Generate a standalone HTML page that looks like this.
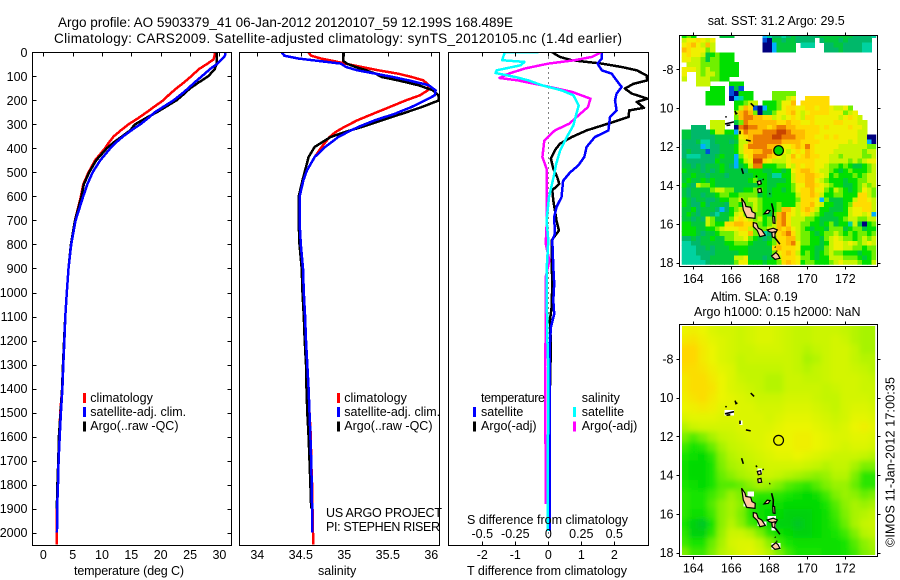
<!DOCTYPE html>
<html>
<head>
<meta charset="utf-8">
<title>Argo profile 5903379_41</title>
<style>
html,body{margin:0;padding:0;background:#fff;}
svg{display:block;}
text{font-family:"Liberation Sans",Arial,sans-serif;font-size:12.5px;fill:#000;}
.title{font-size:13.5px;}
.frame{fill:none;stroke:#000;stroke-width:1;shape-rendering:crispEdges;}
</style>
</head>
<body>
<svg id="chart" xmlns="http://www.w3.org/2000/svg" width="900" height="580" viewBox="0 0 900 580">
  <defs>
    <clipPath id="clip-temp"><rect x="33" y="53" width="198" height="492"/></clipPath>
    <clipPath id="clip-sal"><rect x="240" y="53" width="199" height="492"/></clipPath>
    <clipPath id="clip-diff"><rect x="449" y="53" width="199" height="492"/></clipPath>
    <clipPath id="clip-sst"><rect x="681.7" y="35" width="194.5" height="229.7"/></clipPath>
    <clipPath id="clip-sla"><rect x="682" y="326" width="193.2" height="229"/></clipPath>
    <filter id="sla-blur" filterUnits="userSpaceOnUse" x="650" y="300" width="250" height="280"><feGaussianBlur stdDeviation="2.6"/></filter>
  </defs>

  <text class="title" x="58" y="27" textLength="455" lengthAdjust="spacing">Argo profile: AO 5903379_41 06-Jan-2012 20120107_59 12.199S 168.489E</text>
  <text class="title" x="54" y="43" textLength="568" lengthAdjust="spacing">Climatology: CARS2009. Satellite-adjusted climatology: synTS_20120105.nc (1.4d earlier)</text>

  <g id="temp-panel"></g>
  <g id="sal-panel"></g>
  <g id="diff-panel"></g>
  <g id="sst-panel"></g>
  <g id="sla-panel"></g>

  <rect class="frame" x="32.5" y="52.5" width="199" height="493"/>
  <rect class="frame" x="239.5" y="52.5" width="200" height="493"/>
  <rect class="frame" x="448.5" y="52.5" width="200" height="493"/>
  <rect class="frame" x="679.5" y="35.5" width="198" height="231"/>
  <rect class="frame" x="679.5" y="324.5" width="198" height="232"/>

  <text x="74" y="575" textLength="110" lengthAdjust="spacing">temperature (deg C)</text>
  <text x="318" y="575">salinity</text>
  <text x="467" y="575" textLength="160" lengthAdjust="spacing">T difference from climatology</text>
  <text x="467" y="524" textLength="161" lengthAdjust="spacing">S difference from climatology</text>

  <g>
    <rect x="83" y="393" width="3" height="10" fill="#ff0000"/>
    <text x="90.3" y="402">climatology</text>
    <rect x="83" y="407" width="3" height="10" fill="#0000ff"/>
    <text x="90.3" y="416">satellite-adj. clim.</text>
    <rect x="83" y="421.5" width="3" height="10" fill="#000"/>
    <text x="90.3" y="430">Argo(..raw -QC)</text>
  </g>
  <g>
    <rect x="337" y="393" width="3" height="10" fill="#ff0000"/>
    <text x="344.3" y="402">climatology</text>
    <rect x="337" y="407" width="3" height="10" fill="#0000ff"/>
    <text x="344.3" y="416">satellite-adj. clim.</text>
    <rect x="337" y="421.5" width="3" height="10" fill="#000"/>
    <text x="344.3" y="430">Argo(..raw -QC)</text>
  </g>
  <text x="326" y="517" textLength="116" lengthAdjust="spacing">US ARGO PROJECT</text>
  <text x="326" y="531" textLength="114" lengthAdjust="spacing">PI: STEPHEN RISER</text>
  <g>
    <text x="481" y="402" textLength="64" lengthAdjust="spacing">temperature</text>
    <rect x="473" y="407" width="3" height="10" fill="#0000ff"/>
    <text x="481" y="416">satellite</text>
    <rect x="473" y="421.5" width="3" height="10" fill="#000"/>
    <text x="481" y="430">Argo(-adj)</text>
    <text x="581.7" y="402">salinity</text>
    <rect x="573" y="407" width="3" height="10" fill="#00ffff"/>
    <text x="581.7" y="416">satellite</text>
    <rect x="573" y="421.5" width="3" height="10" fill="#ff00ff"/>
    <text x="581.7" y="430">Argo(-adj)</text>
  </g>

  <text x="707.7" y="25" textLength="137" lengthAdjust="spacing">sat. SST: 31.2 Argo: 29.5</text>
  <text x="710.7" y="301" textLength="87" lengthAdjust="spacing">Altim. SLA: 0.19</text>
  <text x="694" y="316" textLength="166.5" lengthAdjust="spacing">Argo h1000: 0.15 h2000: NaN</text>
  <text transform="translate(894.5,547) rotate(-90)" textLength="170" lengthAdjust="spacing">©IMOS 11-Jan-2012 17:00:35</text>
</svg>

<script>
/* ---------- axis ticks ---------- */
const depthTicks = [0,100,200,300,400,500,600,700,800,900,1000,1100,1200,1300,1400,1500,1600,1700,1800,1900,2000];
const tempTicks = [0,5,10,15,20,25,30];
const salTicks = [34,34.5,35,35.5,36];
const tDiffTicks = [-2,-1,0,1,2];
const sDiffTicks = [-0.5,-0.25,0,0.25,0.5];
const lonTicks = [164,166,168,170,172];
const latTicks = [8,10,12,14,16,18];

/* ---------- temperature profiles ---------- */
const tempDepths = [0,10,20,30,50,70,100,125,150,175,200,225,250,275,300,325,350,375,400,450,500,550,600,700,800,900,1000,1100,1200,1300,1400,1500,1600,1700,1800,1900,2000,2050];
const tempClim = [29.25,29.2,29.1,29.0,27.8,26.5,25.2,24.0,22.7,21.5,20.45,19.0,17.6,16.1,14.5,13.2,12.0,11.2,10.5,8.8,7.7,6.8,6.4,5.4,4.7,4.3,4.0,3.75,3.55,3.4,3.2,2.9,2.7,2.6,2.45,2.3,2.3,2.28];
const tempSat = [31.05,31.0,30.8,30.4,29.5,28.4,27.0,25.8,24.7,23.5,22.2,20.6,19.0,17.8,16.5,15.0,13.6,12.4,11.4,9.7,8.4,7.5,6.8,5.5,4.75,4.3,4.0,3.75,3.6,3.4,3.25,3.0,2.8,2.6,2.5,2.35,2.33];
const tempArgo = [29.5,29.5,29.5,29.5,29.5,29.2,28.1,26.5,25.0,23.9,22.7,21.0,19.3,17.4,15.6,14.8,13.4,12.0,10.8,9.0,7.8,6.9,6.5,5.4,4.7,4.3,4.0,3.75,3.55,3.35,3.2,2.95,2.65,2.55,2.4,2.3];

/* ---------- salinity profiles ---------- */
const salDepths = [0,14,26,36,47,61,75,89,103,117,137,158,179,200,228,256,283,311,332,353,394,436,492,533,603,700,800,900,1000,1100,1200,1300,1400,1500,1600,1700,1800,1900,2000,2050];
const salClim = [34.586,34.62,34.73,34.87,35.008,35.2,35.39,35.62,35.775,35.91,35.97,35.96,35.87,35.71,35.52,35.33,35.15,35.0,34.9,34.83,34.74,34.66,34.57,34.53,34.485,34.485,34.5,34.525,34.535,34.55,34.56,34.575,34.59,34.6,34.615,34.62,34.63,34.635,34.64,34.645];
const salSat = [34.28,34.31,34.47,34.7,34.96,35.02,35.15,35.36,35.56,35.74,35.97,36.05,36.04,35.93,35.77,35.58,35.35,35.16,35.04,34.93,34.78,34.66,34.57,34.53,34.485,34.485,34.5,34.525,34.535,34.55,34.56,34.575,34.59,34.6,34.61,34.62,34.625,34.63,34.635];
const salArgo = [34.99,34.99,34.99,34.99,35.03,35.13,35.25,35.36,35.43,35.62,35.85,36.02,36.08,36.09,35.89,35.66,35.43,35.2,35.008,34.84,34.66,34.59,34.55,34.52,34.475,34.475,34.485,34.51,34.52,34.535,34.545,34.56,34.565,34.575,34.59,34.6,34.61,34.62];

/* ---------- difference profiles ---------- */
const tArgoDepths = [0,19,33,47,61,75,96,117,131,151,172,193,207,231,242,269,290,325,353,381,408,443,485,519,547,575,617,700,742,783,867,964,1061,1117,1214,1408,1880];
const tArgoDiff = [0.12,0.35,0.71,1.62,2.22,2.68,2.98,3.0,2.58,2.32,2.53,3.0,2.68,2.9,2.45,2.44,1.97,1.16,0.71,0.35,0.2,0.08,0.15,0.27,0.33,0.12,0.15,0.25,0.32,0.1,0.1,0.12,0.1,0.05,0.08,0.05,0.05];
const tSatDepths = [0,26,47,75,89,117,144,172,200,242,269,325,353,394,436,471,500,535,603,644,686,755,783,894,964,1033,1089,1144,1214,1500,1992];
const tSatDiff = [1.62,1.62,1.49,1.62,1.92,2.07,2.22,2.07,2.02,2.07,1.87,1.82,1.41,1.16,1.09,0.91,0.66,0.45,0.4,0.25,0.18,0.2,0.12,0.15,0.18,0.15,0.18,0.08,0.05,0.05,0.05];
const sArgoDepths = [0,19,33,47,68,89,107,117,137,165,193,228,262,297,325,367,436,485,603,686,797,867,936,1172,1311,1880];
const sArgoDiff = [0.4,0.33,0.2,0,-0.18,-0.3,-0.37,-0.23,-0.05,0.18,0.32,0.3,0.23,0.16,0.05,-0.03,-0.045,-0.013,-0.013,-0.01,-0.02,0.008,-0.02,-0.02,-0.025,-0.018];
const sSatDepths = [0,1,33,40,54,75,86,103,117,137,158,179,222,262,304,353,408,464,519,603,700,783,908,1172,1311,1992];
const sSatDiff = [-0.075,-0.33,-0.35,-0.18,-0.21,-0.39,-0.4,-0.25,-0.15,-0.05,0.1,0.19,0.23,0.21,0.19,0.14,0.09,0.06,0.04,0.005,-0.013,0,-0.013,-0.008,0,-0.005];

/* ---------- SST map: colour level per quarter-degree cell, north to south ---------- */
const _ = null;
const sstRows = [
[7,8,7,_,_,_,_,_,6,6,6,_,_,_,_,_,_,3,4,5,5,4,5,6,5,5,5,5,5,6,6,6,6,6,6,6,5,5,5,5,4],
[9,10,10,11,10,9,10,_,_,_,_,_,_,_,_,_,_,2,1,6,6,5,6,6,5,5,5,5,_,5,6,6,6,5,6,5,5,5,5,5],
[10,11,12,10,9,12,9,_,_,_,_,_,_,_,_,_,_,1,1,3,6,6,6,6,_,4,4,4,_,_,5,5,6,6,5,5,5,5,4,4],
[12,11,10,10,10,8,9,_,_,_,_,_,_,_,_,_,_,1,1,3,6,6,6,6,_,_,_,_,_,_,5,5,5,6,5,5,5,5,4,4],
[10,11,10,10,9,6,7,8,7,7,7],
[10,10,9,9,8,6,8,8,7,7,7],
[_,9,9,9,8,8,8,8,7,7,7,7],
[10,10,10,9,8,9,8,8,7,7,7,7],
[10,_,_,9,8,9,9,8,7,7,7,7],
[9,_,_,9,9,9,8,8,7,7],
[_,_,_,9,9,9,_,_,_,_,7,7,7],
[_,_,_,_,_,_,7,7,7,_,2,6,2],
[_,_,_,_,_,7,7,7,7,_,2,1,7,7,7,_,_,_,_,8,8,8,8,8],
[_,_,_,_,_,7,7,7,7,_,1,3,4,7,7,_,_,_,_,8,8,8,9,10,_,_,11,11,11,11,11],
[_,_,_,_,_,7,7,7,7,_,_,7,7,8,9,9,_,7,7,7,8,10,10,12,_,11,11,11,11,11,11],
[_,_,_,_,_,_,_,_,_,_,_,7,9,12,11,2,1,3,7,7,8,10,11,11,10,10,11,11,10,11,11,10,9,9,10,8],
[_,_,_,_,_,_,_,_,_,_,_,9,12,13,12,8,1,6,6,8,10,10,11,12,10,9,10,11,11,11,11,10,10,10,8,9,10],
[_,_,_,_,_,_,_,_,_,_,_,8,12,13,13,12,12,11,11,9,10,9,10,11,10,9,11,11,10,10,10,10,10,9,10,11,10,9],
[_,_,_,_,_,_,9,9,9,_,_,6,8,13,12,12,12,12,12,12,11,11,12,11,11,10,10,11,10,10,10,10,11,11,10,10,10,9,9],
[_,_,5,5,5,_,9,9,9,_,_,1,13,14,13,13,12,12,11,12,13,13,12,12,11,11,11,11,11,10,11,10,10,10,10,11,10,10,9],
[6,6,5,5,5,5,7,9,9,7,7,3,11,13,12,12,12,13,13,13,14,14,13,12,12,12,11,11,11,10,10,10,10,10,10,10,10,9,9],
[6,6,5,5,5,5,5,6,6,6,6,7,10,11,12,13,13,13,13,14,14,13,13,13,12,12,11,11,10,10,11,10,11,10,10,10,10,9,9,1,1],
[5,5,5,6,4,4,5,6,6,6,5,6,9,9,12,13,13,13,13,13,13,12,12,12,12,11,11,11,11,10,10,10,10,10,10,9,10,9,9,3,1],
[5,5,5,5,3,4,5,5,6,6,6,7,9,11,13,13,13,13,12,12,12,10,10,11,12,11,13,11,10,10,10,10,10,9,9,9,9,9,9,8,8],
[5,6,5,5,5,2,5,5,6,6,6,7,9,11,11,12,12,13,13,12,12,10,9,10,11,10,12,11,10,10,10,10,9,9,9,9,9,9,8,9,9],
[5,4,4,4,5,5,5,6,7,6,6,3,8,10,11,13,13,13,12,11,10,9,10,12,10,11,12,11,11,10,10,9,9,8,9,9,9,9,8,8,9],
[6,5,5,5,5,5,5,7,6,6,6,3,7,9,10,14,14,11,10,9,9,9,10,11,11,11,11,11,10,10,10,9,9,9,9,8,9,8,9,10,10],
[6,6,5,6,5,6,6,6,7,6,5,3,6,7,9,13,13,7,7,7,8,8,10,9,11,10,11,11,10,10,9,8,8,7,8,7,6,6,7,8,9],
[7,6,6,6,5,6,5,6,7,6,6,6,6,5,7,7,7,6,6,7,7,6,7,10,11,12,12,11,10,9,9,8,7,6,7,8,7,7,7,8,9],
[6,6,7,6,6,5,6,6,6,5,6,6,6,6,6,7,7,7,6,4,4,7,7,9,11,11,12,12,11,10,9,7,8,7,7,7,8,7,8,9,9],
[6,7,6,6,7,6,7,6,6,6,6,6,6,6,7,8,6,7,6,6,6,6,7,9,11,11,12,12,10,9,8,7,7,7,6,7,7,8,8,9,9],
[7,6,5,9,8,8,7,6,6,6,6,6,6,6,6,6,7,7,6,6,7,7,7,8,10,10,12,12,11,10,9,8,7,7,6,6,7,8,9,8,9],
[6,5,6,6,6,6,8,9,9,8,8,6,6,7,7,8,8,7,6,7,7,6,7,8,10,11,11,12,10,10,8,7,9,8,7,6,7,8,10,9,8],
[6,5,6,6,5,6,6,7,8,8,7,7,8,8,8,8,6,7,6,7,7,7,7,7,9,11,11,12,11,9,7,7,8,8,7,7,7,11,11,9,8],
[7,6,5,6,6,5,5,6,7,7,8,8,9,8,9,9,8,7,7,7,7,7,7,7,8,11,11,11,10,3,8,6,6,6,7,7,9,11,11,10,9],
[7,6,5,5,7,5,6,6,6,5,8,8,7,8,8,9,8,7,7,7,8,7,7,7,9,11,11,12,10,9,7,7,6,6,7,8,11,11,11,11,9],
[6,6,7,5,6,6,6,5,3,5,7,8,9,8,8,9,8,7,7,7,8,12,12,10,9,11,12,11,9,7,7,6,6,6,7,9,10,10,11,11,9],
[6,7,6,5,6,6,5,4,6,6,7,9,10,8,8,8,8,7,6,8,12,13,11,10,9,10,11,9,8,7,6,6,7,7,7,9,10,10,9,10,3],
[6,6,5,6,5,9,8,6,6,6,8,10,11,10,9,8,9,7,8,8,12,13,11,9,9,9,8,8,7,6,6,6,6,7,8,9,9,8,8,9,9],
[7,7,6,6,6,9,8,7,7,11,11,12,12,11,11,9,8,7,8,9,12,13,11,9,9,8,8,7,7,6,7,8,6,7,7,4,9,6,1,7,8],
[7,7,7,6,6,7,7,8,9,10,10,10,11,11,9,8,8,8,9,9,12,11,12,10,9,8,7,6,7,7,6,8,8,8,6,7,8,8,6,7,7],
[7,7,7,6,5,6,6,7,8,8,8,9,10,10,12,8,8,4,5,9,11,12,13,11,9,8,8,7,6,7,8,8,9,8,7,8,7,8,8,7,8],
[5,5,6,5,6,6,7,6,6,8,8,9,9,10,8,7,6,5,6,8,11,11,12,12,9,8,8,7,7,6,8,9,10,9,8,8,7,8,9,8,9],
[4,4,5,5,6,6,6,6,6,7,7,8,8,8,7,6,6,6,7,8,11,11,12,13,10,8,8,7,7,6,7,9,10,10,9,10,9,8,9,10,9],
[4,4,4,5,5,6,5,6,6,6,7,7,7,7,6,6,6,6,6,11,12,11,11,11,10,7,7,7,6,6,8,9,10,10,9,9,8,8,7,8,8],
[4,4,4,5,5,5,5,6,6,6,6,6,7,7,6,6,6,6,6,8,10,11,12,11,9,7,8,7,6,7,8,9,8,8,7,7,7,6,7,7,8],
[4,4,4,4,5,5,6,6,6,6,6,9,9,10,6,6,6,5,6,7,9,11,11,11,10,8,8,7,6,7,7,9,9,9,8,8,8,7,6,7,8],
[4,4,4,4,4,5,6,6,6,6,6,8,10,10,7,7,7,6,7,7,8,11,12,11,10,7,8,8,7,7,7,8,9,10,9,9,9,8,7,7,9]
];

/* ---------- SLA map: sea level anomaly (m) per half-degree cell, north to south ---------- */
const slaRows = [
[.20,.21,.20,.18,.17,.17,.16,.17,.18,.18,.17,.16,.15,.15,.16,.16,.16,.15,.14,.13,.13],
[.22,.23,.21,.19,.18,.17,.16,.17,.18,.18,.17,.16,.15,.15,.16,.16,.17,.16,.14,.13,.13],
[.25,.25,.22,.20,.18,.17,.16,.16,.17,.17,.17,.16,.15,.14,.15,.16,.17,.17,.15,.13,.13],
[.25,.25,.22,.20,.18,.17,.15,.16,.16,.16,.16,.16,.15,.13,.14,.16,.17,.17,.15,.14,.14],
[.24,.24,.23,.21,.19,.18,.15,.15,.15,.15,.15,.16,.15,.14,.15,.16,.17,.17,.16,.15,.14],
[.22,.24,.24,.22,.20,.18,.16,.15,.15,.14,.14,.16,.16,.15,.15,.16,.17,.17,.17,.16,.15],
[.22,.24,.24,.23,.20,.18,.17,.16,.15,.14,.14,.16,.16,.16,.16,.15,.16,.17,.17,.16,.16],
[.21,.23,.24,.22,.20,.19,.18,.17,.16,.16,.16,.17,.17,.17,.16,.15,.15,.17,.17,.17,.16],
[.20,.21,.22,.21,.19,.19,.18,.18,.17,.17,.17,.18,.18,.18,.17,.16,.15,.17,.18,.18,.17],
[.18,.19,.19,.19,.18,.18,.18,.18,.18,.17,.18,.19,.19,.19,.18,.17,.16,.17,.19,.19,.18],
[.14,.16,.17,.17,.17,.17,.18,.18,.18,.18,.19,.20,.20,.20,.19,.18,.17,.18,.20,.21,.19],
[.10,.08,.10,.13,.15,.16,.17,.18,.18,.19,.20,.20,.21,.21,.20,.19,.18,.18,.19,.19,.18],
[.07,.05,.06,.09,.13,.15,.16,.17,.18,.19,.20,.20,.21,.21,.20,.19,.18,.17,.18,.18,.17],
[.05,.04,.03,.06,.11,.14,.15,.16,.17,.18,.19,.19,.20,.19,.18,.17,.16,.16,.16,.15,.14],
[.04,.03,.03,.05,.10,.13,.14,.15,.16,.17,.17,.17,.17,.16,.15,.14,.15,.15,.13,.10,.10],
[.04,.03,.03,.05,.09,.11,.13,.14,.15,.16,.15,.14,.13,.12,.11,.12,.14,.14,.10,.06,.06],
[.05,.04,.03,.05,.08,.08,.09,.11,.13,.12,.10,.08,.07,.06,.08,.10,.12,.12,.09,.06,.06],
[.06,.05,.05,.07,.09,.12,.10,.07,.06,.06,.06,.05,.04,.03,.04,.07,.10,.12,.11,.09,.10],
[.06,.05,.05,.08,.11,.13,.11,.06,.04,.04,.04,.03,.03,.03,.03,.05,.08,.11,.13,.12,.13],
[.06,.04,.04,.07,.11,.13,.10,.06,.04,.03,.03,.02,.02,.02,.03,.04,.07,.10,.13,.14,.15],
[.05,.02,.01,.05,.11,.14,.11,.07,.05,.03,.02,.02,.01,.02,.03,.04,.06,.09,.13,.15,.16],
[.06,.02,.02,.06,.12,.16,.16,.14,.10,.06,.04,.03,.02,.02,.03,.04,.05,.07,.10,.14,.15],
[.07,.05,.05,.09,.13,.17,.18,.18,.15,.11,.07,.05,.04,.04,.04,.04,.04,.05,.08,.11,.13],
[.10,.07,.07,.10,.14,.16,.18,.19,.17,.14,.10,.07,.05,.05,.05,.04,.04,.05,.07,.10,.12]
];

/* ---------- coastlines (lon, degrees south) ---------- */
const islandShapes = [
[[166.54,14.67],[166.72,14.93],[166.77,15.1],[167.02,15.14],[167.09,15.36],[167.26,15.45],[167.25,15.71],[166.81,15.66],[166.63,15.28]],
[[167.16,15.93],[167.33,15.97],[167.42,16.22],[167.6,16.31],[167.79,16.59],[167.51,16.66],[167.37,16.34],[167.16,16.14]],
[[167.89,16.31],[168.21,16.22],[168.42,16.31],[168.32,16.48],[168.0,16.4]],
[[168.12,17.66],[168.35,17.48],[168.47,17.6],[168.56,17.78],[168.3,17.83],[168.18,17.72]],
[[167.72,15.48],[167.89,15.29],[168.04,15.31],[167.95,15.45]],
[[167.37,13.81],[167.54,13.76],[167.58,13.93],[167.42,13.98]],
[[167.39,14.2],[167.56,14.16],[167.6,14.36],[167.42,14.38]],
[[168.13,16.45],[168.3,16.4],[168.3,16.72],[168.16,16.68]],
[[168.18,15.6],[168.28,15.62],[168.3,15.97],[168.2,15.95]]
];
const coastLines = [
[[168.12,14.93],[168.21,15.28],[168.2,15.62]],
[[168.25,16.66],[168.39,16.83],[168.56,17.05]],
[[166.54,13.12],[166.63,13.41]],
[[166.77,11.66],[167.02,11.71]],
[[166.46,11.18],[166.46,11.36]],
[[165.67,10.83],[166.14,10.72]],
[[165.75,10.9],[165.95,10.88]],
[[166.2,10.15],[166.25,10.3],[166.32,10.26]],
[[167.02,9.76],[167.2,9.93]],
[[165.72,10.42],[165.72,10.5]],
[[167.3,13.5],[167.35,13.58]],
[[167.65,13.68],[167.7,13.72]],
[[168.0,14.45],[168.05,14.42]],
[[168.39,17.38],[168.39,17.43]],
[[168.3,17.18],[168.33,17.22]]
];
/* land-masked altimetry boxes: lon min, lon max, south min, south max */
const slaLandMasks = [
[165.63,166.14,10.63,10.91],[166.42,166.6,11.18,11.41],[167.37,167.61,13.65,13.94],[167.37,167.6,14.16,14.39],
[166.84,167.19,14.85,15.11],[166.63,166.84,15.45,15.62],[167.37,167.86,16.4,16.62],[167.9,168.35,16.1,16.4],
[168.12,168.35,16.49,16.86],[168.12,168.6,17.5,17.83]
];
const argoLon = 168.489;
const argoSouth = 12.199;

/* ---------- scales ---------- */
const NS = 'http://www.w3.org/2000/svg';
function depthY(d){ return 52.3 + 0.2402*d; }
function tempX(t){ return 43.3 + 5.87*t; }
function salX(s){ return 257.3 + 87*(s-34); }
function tDiffX(t){ return 548.3 + 33*t; }
function sDiffX(s){ return 548.3 + 132*s; }
function lonX(l){ return 693.3 + 19*(l-164); }
function sstLatY(s){ return 69.3 + 19.33*(s-8); }
function slaLatY(s){ return 359 + 19.37*(s-8); }

function make(parent, tag, attrs, txt){
  var n = document.createElementNS(NS, tag);
  for (var k in attrs) n.setAttribute(k, attrs[k]);
  if (txt !== undefined) n.textContent = txt;
  parent.appendChild(n);
  return n;
}
function pointsOf(values, depths, xf){
  var pts = [];
  for (var i = 0; i < values.length; i++) pts.push(xf(values[i]).toFixed(1) + ',' + depthY(depths[i]).toFixed(1));
  return pts.join(' ');
}
function curveAttrs(values, depths, xf, colour, clip){
  return {points: pointsOf(values, depths, xf), fill: 'none', stroke: colour, 'stroke-width': 2.5, 'shape-rendering': 'crispEdges', 'stroke-linejoin': 'round', 'clip-path': 'url(#' + clip + ')'};
}
function tickAttrs(x1, y1, x2, y2){
  return {x1: x1, y1: y1, x2: x2, y2: y2, stroke: '#000', 'stroke-width': 1, 'shape-rendering': 'crispEdges'};
}

var el, i, j;
var tempG = document.getElementById('temp-panel');
var salG = document.getElementById('sal-panel');
var diffG = document.getElementById('diff-panel');
var sstG = document.getElementById('sst-panel');
var slaG = document.getElementById('sla-panel');

/* ---------- temperature panel ---------- */
el = make(tempG, 'polyline', curveAttrs(tempClim, tempDepths, tempX, '#ff0000', 'clip-temp'));


el = make(tempG, 'polyline', curveAttrs(tempArgo, tempDepths, tempX, '#000000', 'clip-temp'));


el = make(tempG, 'polyline', curveAttrs(tempSat, tempDepths, tempX, '#0000ff', 'clip-temp'));



depthTicks.forEach(function(d){
  var y = Math.round(depthY(d)) + 0.5;
  var e = make(tempG, 'line', tickAttrs(32.5, y, 36.5, y));
  
  
  e = make(tempG, 'line', tickAttrs(227.5, y, 231.5, y));
  
  
  e = make(tempG, 'text', {x: 27.5, y: (depthY(d) + 4.5).toFixed(1), 'text-anchor': 'end'}, String(d));
  
  
});
tempTicks.forEach(function(t){
  var x = Math.round(tempX(t)) + 0.5;
  var e = make(tempG, 'line', tickAttrs(x, 52.5, x, 56.5));
  
  
  e = make(tempG, 'text', {x: tempX(t).toFixed(1), y: 559, 'text-anchor': 'middle'}, String(t));
  
  
});

/* ---------- salinity panel ---------- */
el = make(salG, 'polyline', curveAttrs(salClim, salDepths, salX, '#ff0000', 'clip-sal'));


el = make(salG, 'polyline', curveAttrs(salArgo, salDepths, salX, '#000000', 'clip-sal'));


el = make(salG, 'polyline', curveAttrs(salSat, salDepths, salX, '#0000ff', 'clip-sal'));


salTicks.forEach(function(s){
  var x = Math.round(salX(s)) + 0.5;
  var e = make(salG, 'line', tickAttrs(x, 52.5, x, 56.5));
  
  
  e = make(salG, 'text', {x: salX(s).toFixed(1), y: 559, 'text-anchor': 'middle'}, String(s));
  
  
});

/* ---------- difference panel ---------- */
el = make(diffG, 'line', {x1: 548.5, y1: 52.5, x2: 548.5, y2: 545, stroke: '#000', 'stroke-width': 1, 'stroke-dasharray': '1 4', 'shape-rendering': 'crispEdges'});


el = make(diffG, 'polyline', curveAttrs(tArgoDiff, tArgoDepths, tDiffX, '#000000', 'clip-diff'));


el = make(diffG, 'polyline', curveAttrs(tSatDiff, tSatDepths, tDiffX, '#0000ff', 'clip-diff'));


el = make(diffG, 'polyline', curveAttrs(sArgoDiff, sArgoDepths, sDiffX, '#ff00ff', 'clip-diff'));


el = make(diffG, 'polyline', curveAttrs(sSatDiff, sSatDepths, sDiffX, '#00ffff', 'clip-diff'));


tDiffTicks.forEach(function(t){
  var x = Math.round(tDiffX(t)) + 0.5;
  var e = make(diffG, 'line', tickAttrs(x, 52.5, x, 56.5));
  
  
  e = make(diffG, 'line', tickAttrs(x, 541.5, x, 545.5));
  
  
  e = make(diffG, 'text', {x: tDiffX(t).toFixed(1), y: 559, 'text-anchor': 'middle'}, String(t));
  
  
});
sDiffTicks.forEach(function(s){
  var e = make(diffG, 'text', {x: sDiffX(s).toFixed(1), y: 538, 'text-anchor': 'middle'}, String(s));
  
  
});

/* ---------- map helpers ---------- */
function levelColour(v){
  var c = ['#ffffff','#00007f','#0050d8','#00b0ff','#00d2a0','#00b86a','#00c83c','#00e000','#70f000','#c8f500','#f0f000','#ffdc00','#ffbc00','#ec7c00','#c84400'];
  return c[Math.max(0, Math.min(14, Math.round(v)))];
}
function slaColour(v){
  var s = [[0,0,190,50],[.03,0,218,0],[.05,20,228,0],[.10,125,240,0],[.15,195,245,0],[.20,235,245,0],[.25,255,215,0],[.30,255,180,0]];
  for (var k = 0; k < s.length - 1; k++){
    if (v <= s[k+1][0]){
      var f = Math.max(0, (v - s[k][0]) / (s[k+1][0] - s[k][0]));
      return 'rgb(' + Math.round(s[k][1] + f*(s[k+1][1]-s[k][1])) + ',' + Math.round(s[k][2] + f*(s[k+1][2]-s[k][2])) + ',' + Math.round(s[k][3] + f*(s[k+1][3]-s[k][3])) + ')';
    }
  }
  return 'rgb(255,180,0)';
}
function drawCoast(group, latY){
  islandShapes.forEach(function(shape){
    var pts = shape.map(function(p){ return lonX(p[0]).toFixed(1) + ',' + latY(p[1]).toFixed(1); }).join(' ');
    var e = make(group, 'polygon', {points: pts, fill: '#ffc8a0', stroke: '#000', 'stroke-width': 1.2});
    
    
  });
  coastLines.forEach(function(line){
    var pts = line.map(function(p){ return lonX(p[0]).toFixed(1) + ',' + latY(p[1]).toFixed(1); }).join(' ');
    var e = make(group, 'polyline', {points: pts, fill: 'none', stroke: '#000', 'stroke-width': 1.6});
    
    
  });
}
function drawMapAxes(group, latY, top, bottom, labelY){
  lonTicks.forEach(function(l){
    var x = Math.round(lonX(l)) + 0.5;
    var e = make(group, 'line', tickAttrs(x, top - 3, x, top));
    
    
    e = make(group, 'line', tickAttrs(x, bottom, x, bottom + 3));
    
    
    e = make(group, 'text', {x: lonX(l).toFixed(1), y: labelY, 'text-anchor': 'middle'}, String(l));
    
    
  });
  latTicks.forEach(function(s){
    var y = Math.round(latY(s)) + 0.5;
    var e = make(group, 'line', tickAttrs(676.5, y, 679.5, y));
    
    
    e = make(group, 'line', tickAttrs(877.5, y, 880.5, y));
    
    
    e = make(group, 'text', {x: 673.5, y: (latY(s) + 4.5).toFixed(1), 'text-anchor': 'end'}, s === 8 ? '-8' : String(s));
    
    
  });
}

/* ---------- SST map ---------- */
var sstCells = make(sstG, 'g', {'clip-path': 'url(#clip-sst)', 'shape-rendering': 'crispEdges'});


const sstLon0 = 163.39, sstSouth0 = 6.12, sstStep = 0.25;
sstRows.forEach(function(row, r){
  row.forEach(function(v, c){
    if (v === null || v === undefined) return;
    var x0 = lonX(sstLon0 + c*sstStep), x1 = lonX(sstLon0 + (c+1)*sstStep);
    var y0 = sstLatY(sstSouth0 + r*sstStep), y1 = sstLatY(sstSouth0 + (r+1)*sstStep);
    var e = make(sstCells, 'rect', {x: x0.toFixed(2), y: y0.toFixed(2), width: (x1-x0+0.3).toFixed(2), height: (y1-y0+0.3).toFixed(2), fill: levelColour(v)});
    
    
  });
});
drawCoast(sstG, sstLatY);
el = make(sstG, 'circle', {cx: lonX(argoLon).toFixed(1), cy: sstLatY(argoSouth).toFixed(1), r: 4.8, fill: '#00d800', stroke: '#000', 'stroke-width': 1.2});


drawMapAxes(sstG, sstLatY, 35.5, 266.5, 283);

/* ---------- SLA map ---------- */
var slaClip = make(slaG, 'g', {'clip-path': 'url(#clip-sla)'});


var slaCells = make(slaClip, 'g', {filter: 'url(#sla-blur)', 'shape-rendering': 'crispEdges'});


const slaLon0 = 163.25, slaSouth0 = 6.25, slaStep = 0.5;
slaRows.forEach(function(row, r){
  row.forEach(function(v, c){
    var x0 = lonX(slaLon0 + c*slaStep), x1 = lonX(slaLon0 + (c+1)*slaStep);
    var y0 = slaLatY(slaSouth0 + r*slaStep), y1 = slaLatY(slaSouth0 + (r+1)*slaStep);
    if (c === 0) x0 -= 14;
    if (c === row.length - 1) x1 += 14;
    if (r === 0) y0 -= 14;
    if (r === slaRows.length - 1) y1 += 14;
    var e = make(slaCells, 'rect', {x: x0.toFixed(2), y: y0.toFixed(2), width: (x1-x0+0.3).toFixed(2), height: (y1-y0+0.3).toFixed(2), fill: slaColour(v)});
    
    
  });
});
slaLandMasks.forEach(function(m){
  var e = make(slaG, 'rect', {x: lonX(m[0]).toFixed(1), y: slaLatY(m[2]).toFixed(1), width: (lonX(m[1])-lonX(m[0])).toFixed(1), height: (slaLatY(m[3])-slaLatY(m[2])).toFixed(1), fill: '#fff', 'shape-rendering': 'crispEdges'});
  
  
});
drawCoast(slaG, slaLatY);
el = make(slaG, 'circle', {cx: lonX(argoLon).toFixed(1), cy: slaLatY(argoSouth).toFixed(1), r: 4.9, fill: 'none', stroke: '#000', 'stroke-width': 1.2});


drawMapAxes(slaG, slaLatY, 324.5, 556.5, 572.5);
</script>
</body>
</html>
